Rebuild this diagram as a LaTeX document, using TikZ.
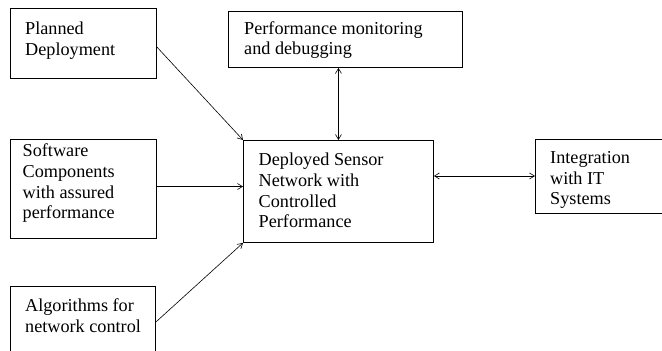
\documentclass[tikz,border=0pt]{standalone}
\usepackage{fontspec}
\setmainfont{Liberation Serif}
\usetikzlibrary{arrows.meta}
\begin{document}
\begin{tikzpicture}[x=1pt,y=-1pt,
  box/.style={draw, line width=0.9pt, rectangle, inner sep=0pt, anchor=north west},
  lbl/.style={anchor=north west, inner sep=0pt, align=left, font=\fontsize{18.2}{20.7}\selectfont},
  conn/.style={line width=0.6pt, -{Straight Barb[length=5pt,width=6pt]}},
  biconn/.style={line width=0.6pt, {Straight Barb[length=5pt,width=6pt]}-{Straight Barb[length=5pt,width=6pt]}}]
\useasboundingbox (0,0) rectangle (662,351);
\clip (0,0) rectangle (662,351);
% boxes
\node[box, minimum width=146pt, minimum height=70pt] (pd) at (10,8) {};
\node[box, minimum width=234pt, minimum height=56pt] (pm) at (228,11) {};
\node[box, minimum width=146pt, minimum height=99pt] (sc) at (10,139) {};
\node[box, minimum width=190pt, minimum height=102pt] (ds) at (243,140) {};
\node[box, minimum width=200pt, minimum height=74pt] (it) at (535,139) {};
\node[box, minimum width=145pt, minimum height=100pt] (al) at (10,286) {};
\coordinate (itw) at ([yshift=0pt]it.north west |- 0,176);
% labels
\node[lbl] (pdt) at (25,20) {\strut Planned\\Deployment};
\node[lbl] (pmt) at (244,19.5) {\strut Performance monitoring\\and debugging};
\node[lbl] (sct) at (22.5,142.2) {\strut Software\\Components\\with assured\\performance};
\node[lbl] (dst) at (258.5,151.2) {\strut Deployed Sensor\\Network with\\Controlled\\Performance};
\node[lbl] (itt) at (550,148.8) {\strut Integration\\with IT\\Systems};
\node[lbl] (alt) at (25,297) {\strut Algorithms for\\network control};
% connectors
\draw[conn] (pd.east |- 0,47) -- (ds.north west);
\draw[conn] (sc.east |- 0,186.5) -- (ds.west |- 0,186.5);
\draw[conn] (al.east |- 0,322) -- (ds.south west);
\draw[biconn] (ds.north |- pm.south) -- (ds.north);
\draw[biconn] (ds.east |- itw) -- (itw);
\end{tikzpicture}
\end{document}
